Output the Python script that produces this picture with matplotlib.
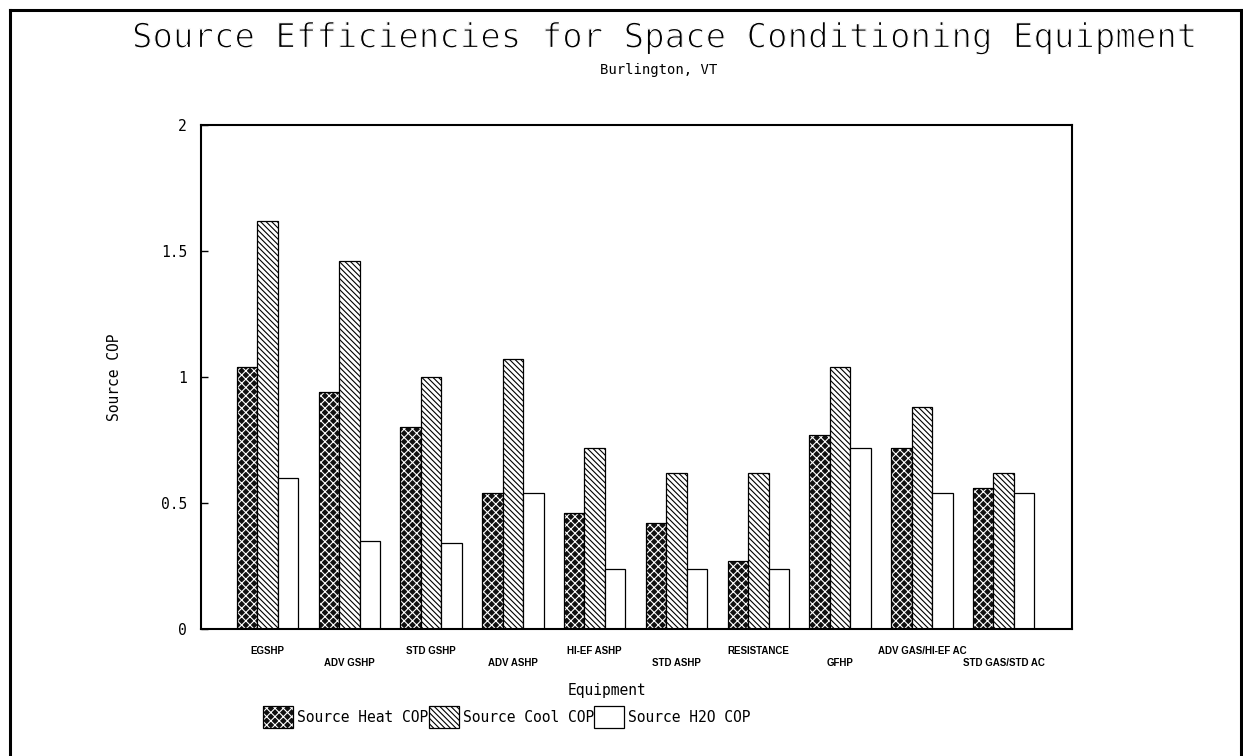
import numpy as np
import matplotlib
matplotlib.use("Agg")
import matplotlib.pyplot as plt
import matplotlib.patheffects as pe
from matplotlib.lines import Line2D
from matplotlib.legend_handler import HandlerTuple

# data
equipment = ["EGSHP", "ADV GSHP", "STD GSHP", "ADV ASHP", "HI-EF ASHP",
             "STD ASHP", "RESISTANCE", "GFHP", "ADV GAS/HI-EF AC", "STD GAS/STD AC"]
heat_cop = [1.04, 0.94, 0.80, 0.54, 0.46, 0.42, 0.27, 0.77, 0.72, 0.56]
cool_cop = [1.62, 1.46, 1.00, 1.07, 0.72, 0.62, 0.62, 1.04, 0.88, 0.62]
h2o_cop = [0.60, 0.35, 0.34, 0.54, 0.24, 0.24, 0.24, 0.72, 0.54, 0.54]
yticks = [0, 0.5, 1, 1.5, 2]
ytick_labels = ["0", "0.5", "1", "1.5", "2"]

mono = "DejaVu Sans Mono"
plt.rcParams["hatch.color"] = "white"
plt.rcParams["hatch.linewidth"] = 0.8

# thins the glyphs a little, the original uses a stroke font
thin = [pe.Normal(), pe.Stroke(linewidth=0.9, foreground="white")]

W, H = 1243, 756
fig = plt.figure(figsize=(W / 100, H / 100), dpi=100)
ax = fig.add_axes([201 / W, 1 - 629 / H, 871 / W, (629 - 125) / H])

x = np.arange(len(equipment))
bw = 0.25

# heat: white cross hatch on black, outline drawn separately
heat = ax.bar(x - bw, heat_cop, bw, color="#101010", hatch="xxxx", linewidth=0)
heat_edge = ax.bar(x - bw, heat_cop, bw, fill=False, edgecolor="black", linewidth=0.9)
cool = ax.bar(x, cool_cop, bw, color="white", edgecolor="black",
              hatch="\\\\\\\\\\\\", linewidth=0.9)
h2o = ax.bar(x + bw, h2o_cop, bw, color="white", edgecolor="black", linewidth=0.9)

ax.set_xlim(-0.813, 9.835)
ax.set_ylim(0, 2)
ax.set_yticks(yticks)
ax.set_yticklabels(ytick_labels, family=mono, fontsize=10.5)
ax.tick_params(axis="y", direction="in", length=5, width=1, pad=10)

# staggered category labels
labels = [name if i % 2 == 0 else "\n" + name for i, name in enumerate(equipment)]
ax.set_xticks(x)
ax.set_xticklabels(labels, fontsize=7, fontweight="bold", family="Liberation Sans",
                   linespacing=1.3)
ax.tick_params(axis="x", length=0, pad=12)

for s in ax.spines.values():
    s.set_linewidth(1.5)

ax.set_ylabel("Source COP", family=mono, fontsize=10.5)
ax.yaxis.set_label_coords(-(201 - 122) / 871, 0.5)
ax.set_xlabel("Equipment", family=mono, fontsize=10.5)
ax.xaxis.set_label_coords((607 - 201) / 871, -(683 - 629) / 504)

fig.text(665 / W, 1 - 38 / H, "Source Efficiencies for Space Conditioning Equipment",
         family=mono, fontsize=24.5, ha="center", va="center", path_effects=thin)
fig.text(659 / W, 1 - 70 / H, "Burlington, VT", family=mono, fontsize=10,
         ha="center", va="center")

fig.legend([(heat, heat_edge), cool, h2o],
           ["Source Heat COP", "Source Cool COP", "Source H2O COP"],
           handler_map={tuple: HandlerTuple(ndivide=1)},
           loc="center", bbox_to_anchor=(507 / W, 1 - 717 / H), ncol=3,
           frameon=False, prop={"family": mono, "size": 10.5},
           handlelength=2.05, handleheight=1.85, handletextpad=0.3,
           columnspacing=0.0, borderpad=0)

# page border
fig.add_artist(Line2D([10 / W, 10 / W], [0, 1 - 10 / H], color="black", lw=2.2))
fig.add_artist(Line2D([10 / W, 1241 / W], [1 - 10 / H, 1 - 10 / H], color="black", lw=2.2))
fig.add_artist(Line2D([1241 / W, 1241 / W], [0, 1 - 10 / H], color="black", lw=2.2))

fig.savefig("out.png", dpi=100)
